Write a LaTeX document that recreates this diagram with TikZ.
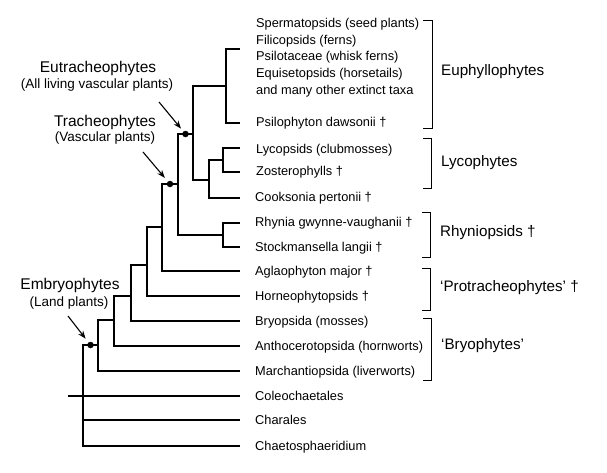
\documentclass[tikz,border=0pt]{standalone}
\usepackage{fontspec}
\setmainfont{Liberation Sans}
\usetikzlibrary{arrows.meta,calc}
\begin{document}
\begin{tikzpicture}[x=1pt,y=-1pt,
  branch/.style={line width=1.15pt, line join=miter},
  leaf/.style={anchor=west, inner sep=0pt, font=\fontsize{12.8}{16.7}\selectfont},
  grp/.style={anchor=west, inner sep=0pt, font=\fontsize{15.2}{18}\selectfont},
  ttl/.style={inner sep=0pt, font=\fontsize{15.5}{18}\selectfont},
  sub/.style={inner sep=0pt, font=\fontsize{13.5}{16}\selectfont},
  brk/.style={line width=0.9pt},
  dotnode/.style={circle, fill=black, inner sep=0pt, minimum size=6.5pt},
  pointer/.style={line width=1.1pt, -{Stealth[length=8pt,width=6pt]}}
]
\useasboundingbox (0,0) rectangle (607,472);
% leaf ends
\coordinate (eEuph) at (240,49);
\coordinate (ePsilo) at (240,123);
\coordinate (eLyc) at (240,148);
\coordinate (eZos) at (240,172);
\coordinate (eCook) at (240,198);
\coordinate (eRhy) at (240,223);
\coordinate (eSto) at (240,247);
\coordinate (eAgl) at (240,271);
\coordinate (eHor) at (240,296);
\coordinate (eBry) at (240,321);
\coordinate (eAnt) at (240,346);
\coordinate (eMar) at (240,371);
\coordinate (eCol) at (240,396);
\coordinate (eCha) at (240,420);
\coordinate (eChs) at (240,446);
\coordinate (stub) at (68,396);
% internal nodes
\coordinate (nE) at (226,86);
\coordinate (nLZ) at (223,160);
\coordinate (nL) at (209,180);
\coordinate (nEu) at (193,134);
\coordinate (nR) at (223,235);
\coordinate (nT) at (178,184);
\coordinate (nP1) at (162,227);
\coordinate (nP2) at (147,265);
\coordinate (nB1) at (131,296);
\coordinate (nB2) at (114,320);
\coordinate (nEm) at (98,345);
\coordinate (nRoot) at (83,396);
% branches
\draw[branch] (eEuph) -| (nE) |- (ePsilo);
\draw[branch] (eLyc) -| (nLZ) |- (eZos);
\draw[branch] (nLZ) -| (nL) |- (eCook);
\draw[branch] (nE) -| (nEu) |- (nL);
\draw[branch] (eRhy) -| (nR) |- (eSto);
\draw[branch] (nEu) -| (nT) |- (nR);
\draw[branch] (nT) -| (nP1) |- (eAgl);
\draw[branch] (nP1) -| (nP2) |- (eHor);
\draw[branch] (nP2) -| (nB1) |- (eBry);
\draw[branch] (nB1) -| (nB2) |- (eAnt);
\draw[branch] (nB2) -| (nEm) |- (eMar);
\draw[branch] (nEm) -| (nRoot) |- (eChs);
\draw[branch] (nRoot |- eCha) -- (eCha);
\draw[branch] (stub) -- (eCol);
% dots
\node[dotnode] (dEu) at ($(nEu)!0.5!(nEu-|nT)$) {};
\node[dotnode] (dT) at ($(nT)!0.5!(nT-|nP1)$) {};
\node[dotnode] (dEm) at ($(nEm)!0.5!(nEm-|nRoot)$) {};
% leaf labels
\node[leaf, align=left] (tEuph) at (256,57.5) {Spermatopsids (seed plants)\\Filicopsids (ferns)\\Psilotaceae (whisk ferns)\\Equisetopsids (horsetails)\\and many other extinct taxa};
\node[leaf] (tPsilo) at (256,123) {Psilophyton dawsonii †};
\node[leaf] (tLyc) at (256,150) {Lycopsids (clubmosses)};
\node[leaf] (tZos) at (256,172) {Zosterophylls †};
\node[leaf] (tCook) at (255,198) {Cooksonia pertonii †};
\node[leaf] (tRhy) at (255,223) {Rhynia gwynne-vaughanii †};
\node[leaf] (tSto) at (255,248) {Stockmansella langii †};
\node[leaf] (tAgl) at (255,272) {Aglaophyton major †};
\node[leaf] (tHor) at (255,297) {Horneophytopsids †};
\node[leaf] (tBry) at (255,322) {Bryopsida (mosses)};
\node[leaf] (tAnt) at (255,347) {Anthocerotopsida (hornworts)};
\node[leaf] (tMar) at (255,372) {Marchantiopsida (liverworts)};
\node[leaf] (tCol) at (255,396) {Coleochaetales};
\node[leaf] (tCha) at (255,420) {Charales};
\node[leaf] (tChs) at (255,447) {Chaetosphaeridium};
% brackets
\draw[brk] (423,20) -- (432,20) -- (432,128) -- (423,128);
\draw[brk] (423,138) -- (431,138) -- (431,188) -- (423,188);
\draw[brk] (422,212) -- (430,212) -- (430,257) -- (422,257);
\draw[brk] (422,268) -- (430,268) -- (430,310) -- (422,310);
\draw[brk] (423,318) -- (431,318) -- (431,380) -- (423,380);
% group labels
\node[grp] (gEuph) at (441,72) {Euphyllophytes};
\node[grp] (gLyc) at (441,163) {Lycophytes};
\node[grp] (gRhy) at (440,233) {Rhyniopsids †};
\node[grp] (gPro) at (440,288) {‘Protracheophytes’ †};
\node[grp] (gBry) at (441,346) {‘Bryophytes’};
% clade titles
\node[ttl] (tiEu) at (98,68) {Eutracheophytes};
\node[sub] (suEu) at (97,85) {(All living vascular plants)};
\node[ttl] (tiT) at (105,122) {Tracheophytes};
\node[sub] (suT) at (105,138) {(Vascular plants)};
\node[ttl] (tiEm) at (70,285) {Embryophytes};
\node[sub] (suEm) at (69,303) {(Land plants)};
% arrows
\coordinate (aEu) at (159,102);
\coordinate (aT) at (143,152);
\coordinate (aEm) at (68,316);
\draw[pointer, shorten >=7pt] (aEu) -- (dEu.center);
\draw[pointer, shorten >=8pt] (aT) -- (dT.center);
\draw[pointer, shorten >=8pt] (aEm) -- (dEm.center);
\end{tikzpicture}
\end{document}
